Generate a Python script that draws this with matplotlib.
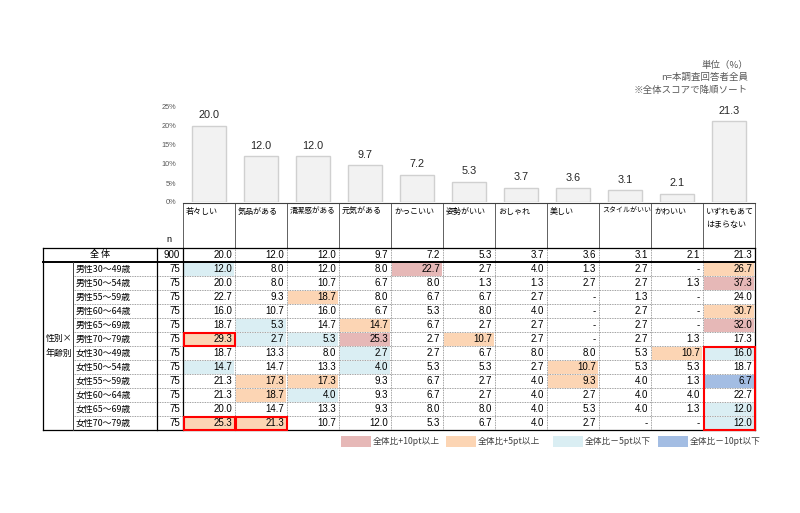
import matplotlib
matplotlib.use('Agg')
import matplotlib.pyplot as plt
from matplotlib.patches import Rectangle

plt.rcParams['font.family'] = ['Noto Sans CJK JP', 'DejaVu Sans']
NUMFONT = ['Liberation Sans', 'DejaVu Sans']

# ---------------- data ----------------
categories = ['若々しい', '気品がある', '清潔感がある', '元気がある', 'かっこいい', '姿勢がいい',
              'おしゃれ', '美しい', 'スタイルがいい', 'かわいい', 'いずれもあて\nはまらない']
overall = [20.0, 12.0, 12.0, 9.7, 7.2, 5.3, 3.7, 3.6, 3.1, 2.1, 21.3]
overall_n = 900
row_labels = ['男性30～49歳', '男性50～54歳', '男性55～59歳', '男性60～64歳', '男性65～69歳', '男性70～79歳',
              '女性30～49歳', '女性50～54歳', '女性55～59歳', '女性60～64歳', '女性65～69歳', '女性70～79歳']
n_values = [75] * 12
values = [
    [12.0, 8.0, 12.0, 8.0, 22.7, 2.7, 4.0, 1.3, 2.7, None, 26.7],
    [20.0, 8.0, 10.7, 6.7, 8.0, 1.3, 1.3, 2.7, 2.7, 1.3, 37.3],
    [22.7, 9.3, 18.7, 8.0, 6.7, 6.7, 2.7, None, 1.3, None, 24.0],
    [16.0, 10.7, 16.0, 6.7, 5.3, 8.0, 4.0, None, 2.7, None, 30.7],
    [18.7, 5.3, 14.7, 14.7, 6.7, 2.7, 2.7, None, 2.7, None, 32.0],
    [29.3, 2.7, 5.3, 25.3, 2.7, 10.7, 2.7, None, 2.7, 1.3, 17.3],
    [18.7, 13.3, 8.0, 2.7, 2.7, 6.7, 8.0, 8.0, 5.3, 10.7, 16.0],
    [14.7, 14.7, 13.3, 4.0, 5.3, 5.3, 2.7, 10.7, 5.3, 5.3, 18.7],
    [21.3, 17.3, 17.3, 9.3, 6.7, 2.7, 4.0, 9.3, 4.0, 1.3, 6.7],
    [21.3, 18.7, 4.0, 9.3, 6.7, 2.7, 4.0, 2.7, 4.0, 4.0, 22.7],
    [20.0, 14.7, 13.3, 9.3, 8.0, 8.0, 4.0, 5.3, 4.0, 1.3, 12.0],
    [25.3, 21.3, 10.7, 12.0, 5.3, 6.7, 4.0, 2.7, None, None, 12.0],
]
# R: +10pt, O: +5pt, L: -5pt, B: -10pt
highlight = [
    "L...R.....O",
    "..........R",
    "..O........",
    "..........O",
    ".L.O......R",
    "OLLR.O.....",
    "...L.....OL",
    "L..L...O...",
    ".OO....O..B",
    ".OL........",
    "..........L",
    "OO........L",
]
legend_labels = ['全体比+10pt以上', '全体比+5pt以上', '全体比－5pt以下', '全体比－10pt以下']
legend_codes = ['R', 'O', 'L', 'B']
# red boxes: (row_start, row_end, col)
red_boxes = [(5, 5, 0), (11, 11, 0), (11, 11, 1), (6, 11, 10)]
group_label = '性別×\n年齢別'
notes = ['単位（%）', 'n=本調査回答者全員', '※全体スコアで降順ソート']
yticks = [0, 5, 10, 15, 20, 25]

fill_colors = {'R': '#e6b8b7', 'O': '#fcd5b4', 'L': '#daeef3', 'B': '#a3bde3'}

# ---------------- layout (pixels) ----------------
W, H = 800, 513
fig = plt.figure(figsize=(8, 5.13), dpi=100)
X0, CW = 183, 52
ncol = len(categories)
XR = X0 + CW * ncol
X_OUT, X_LAB, X_N = 43, 73, 157
Y_HEAD, Y_ALL, RH0 = 203, 248, 14
Y_ROWS = Y_ALL + RH0
RH = 14
Y_BOT = Y_ROWS + RH * len(row_labels)

# ---------------- bar chart ----------------
Y0px, Y25px = 202, 107
axb = fig.add_axes([X0 / W, (H - Y0px) / H, (XR - X0) / W, (Y0px - Y25px) / H])
centers = [X0 + CW * (i + 0.5) for i in range(ncol)]
bars = axb.bar(centers, overall, width=34, color='#f2f2f2', edgecolor='#d0d0d0', linewidth=1.0)
for c, v in zip(centers, overall):
    axb.annotate(f'{v:.1f}', (c, v), xytext=(0, 4), textcoords='offset points',
                 ha='center', va='bottom', fontsize=7.8, family=NUMFONT, color='#262626')
axb.set_xlim(X0, XR)
axb.set_ylim(0, 25)
axb.set_yticks(yticks)
axb.set_yticklabels([f'{t}%' for t in yticks], fontsize=5.3, color='#595959', family=NUMFONT)
axb.tick_params(axis='y', length=0, pad=5)
axb.set_xticks([])
for s in axb.spines.values():
    s.set_visible(False)
axb.patch.set_alpha(0)

# ---------------- table ----------------
ax = fig.add_axes([0, 0, 1, 1])
ax.set_xlim(0, W)
ax.set_ylim(H, 0)
ax.axis('off')

dot = dict(color='#808080', lw=0.6, linestyle=(0, (1, 1)))
solid = dict(color='#000000', lw=0.9)

# cell fills
for r, row in enumerate(highlight):
    for c, code in enumerate(row):
        if code != '.':
            ax.add_patch(Rectangle((X0 + CW * c + 1, Y_ROWS + RH * r + 1), CW - 2, RH - 1.5,
                                   facecolor=fill_colors[code], edgecolor='none', zorder=1))

# header
for i, lab in enumerate(categories):
    n = len(lab)
    fs = 5.8 if ('\n' in lab or n <= 5) else (5.5 if n == 6 else 5.0)
    ax.text(X0 + CW * i + 3, Y_HEAD + 4, lab, ha='left', va='top', fontsize=fs,
            color='#000000', linespacing=1.6)
for i in range(ncol + 1):
    ax.plot([X0 + CW * i, X0 + CW * i], [Y_HEAD, Y_ALL], color='#606060', lw=0.7, zorder=3)
ax.plot([X0, XR], [Y_HEAD, Y_HEAD], color='#404040', lw=0.8, zorder=3)
ax.text(X_N + 12, Y_ALL - 8, 'n', ha='center', va='center', fontsize=6.5, family=NUMFONT)

# overall row
ax.text((X_OUT + X_N) / 2, Y_ALL + RH0 / 2, '全 体', ha='center', va='center', fontsize=6.5)
ax.text(X0 - 3, Y_ALL + RH0 / 2, str(overall_n), ha='right', va='center', fontsize=7, family=NUMFONT)
for c, v in enumerate(overall):
    ax.text(X0 + CW * (c + 1) - 3, Y_ALL + RH0 / 2, f'{v:.1f}', ha='right', va='center',
            fontsize=7, family=NUMFONT)

# data rows
for r, lab in enumerate(row_labels):
    yc = Y_ROWS + RH * (r + 0.5)
    ax.text(X_LAB + 3, yc, lab, ha='left', va='center', fontsize=6.4)
    ax.text(X0 - 3, yc, str(n_values[r]), ha='right', va='center', fontsize=7, family=NUMFONT)
    for c, v in enumerate(values[r]):
        s = '-' if v is None else f'{v:.1f}'
        ax.text(X0 + CW * (c + 1) - 3, yc, s, ha='right', va='center', fontsize=7,
                family=NUMFONT, zorder=4)
ax.text((X_OUT + X_LAB) / 2 + 1, Y_ROWS + RH * 6, group_label, ha='center', va='center',
        fontsize=6.4, linespacing=1.9)

# grid lines
for r in range(1, len(row_labels)):
    y = Y_ROWS + RH * r
    ax.plot([X_LAB, XR], [y, y], zorder=2, **dot)
for c in range(1, ncol):
    x = X0 + CW * c
    ax.plot([x, x], [Y_ALL, Y_BOT], zorder=2, **dot)
ax.plot([X_OUT, XR], [Y_ALL, Y_ALL], zorder=3, **solid)
ax.plot([X_OUT, XR], [Y_ROWS, Y_ROWS], color='#000000', lw=1.4, zorder=3)
ax.plot([X_OUT, XR], [Y_BOT, Y_BOT], zorder=3, **solid)
ax.plot([X_OUT, X_OUT], [Y_ALL, Y_BOT], zorder=3, **solid)
ax.plot([XR, XR], [Y_ALL, Y_BOT], zorder=3, **solid)
ax.plot([X_N, X_N], [Y_ALL, Y_BOT], zorder=3, **solid)
ax.plot([X0, X0], [Y_ALL, Y_BOT], zorder=3, **solid)
ax.plot([X_LAB, X_LAB], [Y_ROWS, Y_BOT], color='#404040', lw=0.7, zorder=3)

# red boxes
for r0, r1, c in red_boxes:
    ax.add_patch(Rectangle((X0 + CW * c + 0.5, Y_ROWS + RH * r0 + 0.5), CW - 1, RH * (r1 - r0 + 1) - 1,
                           facecolor='none', edgecolor='#ff0000', lw=1.5, zorder=5))

# legend
leg_x = [341, 446, 553, 658]
for x, code, lab in zip(leg_x, legend_codes, legend_labels):
    ax.add_patch(Rectangle((x, 436), 30, 11, facecolor=fill_colors[code], edgecolor='none'))
    ax.text(x + 32, 441.5, lab, ha='left', va='center', fontsize=6.3, color='#404040')

# notes
for i, t in enumerate(notes):
    ax.text(748, 65 + 12.5 * i, t, ha='right', va='center', fontsize=6.8, color='#595959')

fig.savefig('out.png', dpi=100)
